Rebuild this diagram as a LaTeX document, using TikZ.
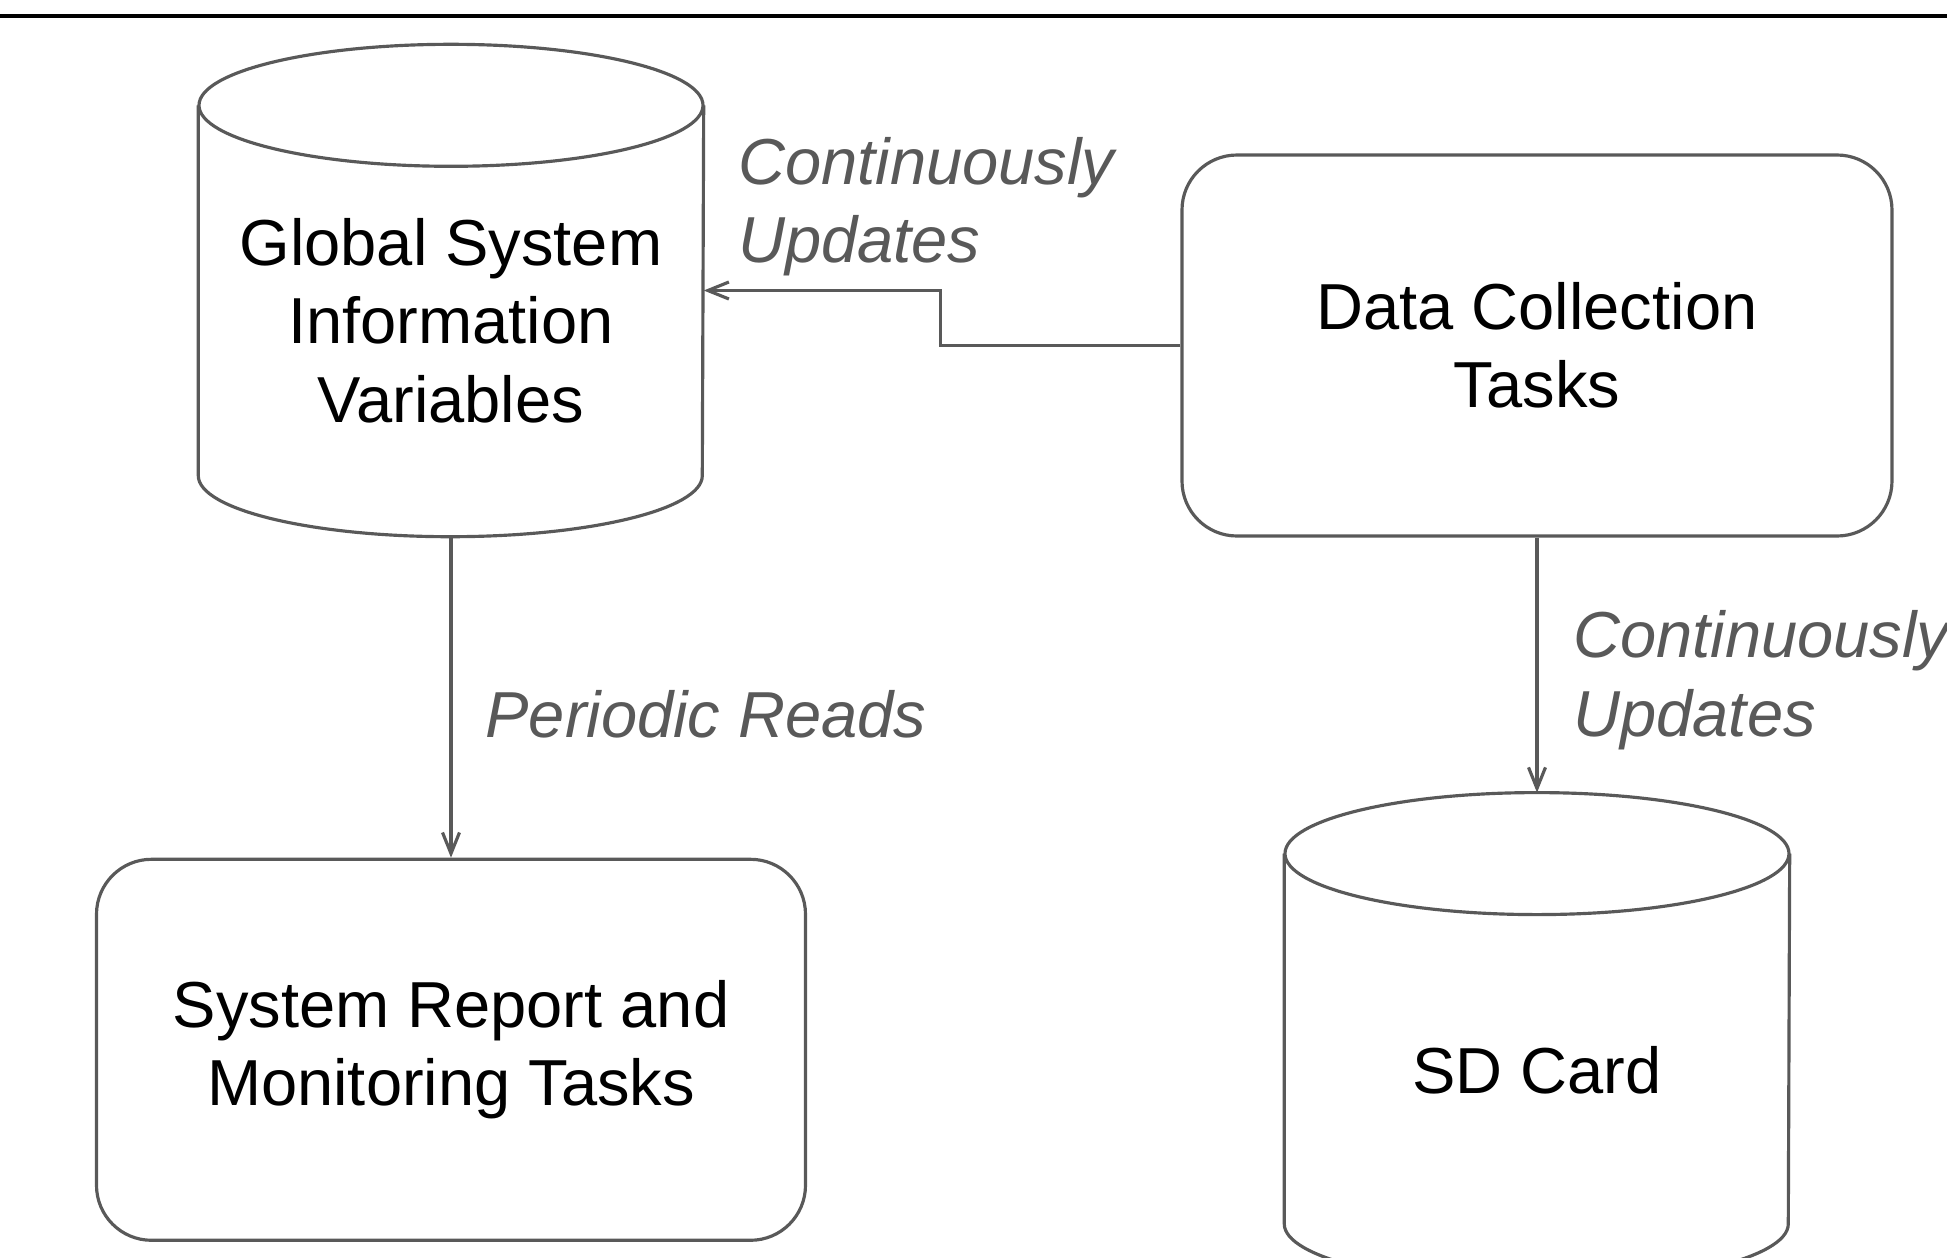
\documentclass[tikz,border=0pt]{standalone}
\usepackage{fontspec}
\setmainfont{Liberation Sans}
\usetikzlibrary{arrows.meta,positioning}
\definecolor{edgegray}{HTML}{595959}
\tikzset{every node/.style={font=\fontsize{18.5}{22.3}\selectfont, align=center}}
\tikzset{task/.style={draw=edgegray, line width=0.9pt, rounded corners=0.55cm, minimum width=7.1cm, minimum height=3.81cm}}
\tikzset{store/.style={minimum width=5.04cm, minimum height=4.91cm, inner sep=0pt}}
\tikzset{lbl/.style={text=edgegray, font=\fontsize{18.5}{22.3}\selectfont\itshape, align=left, inner sep=0pt}}
\tikzset{link/.style={draw=edgegray, line width=0.9pt, -{Straight Barb[length=2.1mm,width=1.7mm]}}}

\begin{document}
\begin{tikzpicture}
  \useasboundingbox (0,0) rectangle (19.47,-12.58);
  \draw[line width=1.15pt] (0,-0.16) -- (19.47,-0.16);

  \node (gsiv) [store] at (4.51,-2.905) {};
  \node (dct) [task] at (15.37,-3.455) {Data Collection\\Tasks};
  \node (srmt) [task, minimum width=7.09cm, below=3.21cm of gsiv] {System Report and\\Monitoring Tasks};
  \node (sd) [store, below=2.55cm of dct] {};

  % cylinder outlines
  \foreach \s in {gsiv,sd} {
    \draw[edgegray, line width=0.9pt] ([yshift=-0.61cm]\s.north west) -- ([yshift=0.61cm]\s.south west)
      arc[start angle=180, end angle=360, x radius=2.52cm, y radius=0.61cm]
      -- ([yshift=-0.61cm]\s.north east);
    \draw[edgegray, line width=0.9pt] ([yshift=-0.61cm]\s.north) ellipse [x radius=2.52cm, y radius=0.61cm];
  }
  \node (gsivtext) at ([yshift=-0.30cm]gsiv.center) {Global System\\Information\\Variables};
  \node (sdtext) at ([yshift=-0.315cm]sd.center) {SD Card};

  \draw[link] (dct.west) -- ++(-2.40,0) |- (gsiv.east)
    node[lbl, pos=1, above right=0.13cm and 0.33cm] {Continuously\\Updates};
  \draw[link] (gsiv.south) -- (srmt.north)
    node[lbl, midway, right=0.33cm, yshift=-0.17cm] {Periodic Reads};
  \draw[link] (dct.south) -- (sd.north)
    node[lbl, midway, right=0.35cm, yshift=-0.15cm] {Continuously\\Updates};
\end{tikzpicture}
\end{document}
